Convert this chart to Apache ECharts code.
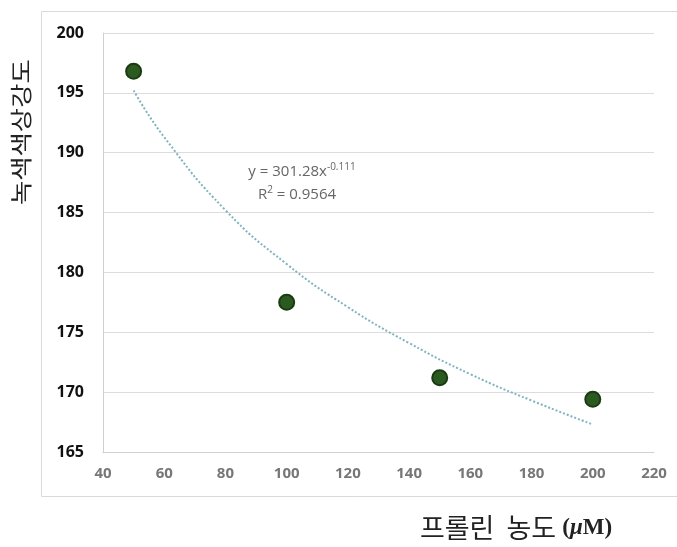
<!DOCTYPE html>
<html>
<head>
<meta charset="utf-8">
<script src="https://cdn.jsdelivr.net/npm/echarts@6/dist/echarts.min.js"></script>
<style>
  html, body { margin: 0; padding: 0; background: #fff; }
  #chart { width: 677px; height: 547px; }
</style>
</head>
<body>
<div id="chart"></div>
<script>
  // 측정값 (프롤린 농도 vs 녹색색상강도)
  var prolineConc = [50, 100, 150, 200];
  var greenIntensity = [196.8, 177.5, 171.2, 169.4];

  // 추세선
  var trendX = [50, 60, 80, 100, 120, 140, 160, 180, 200];
  var trendY = [195.2, 191.3, 185.2, 180.7, 177.1, 174.1, 171.5, 169.3, 167.3];

  var xTicks = [40, 220, 20];   // min, max, interval
  var yTicks = [165, 200, 5];

  var chart = echarts.init(document.getElementById('chart'));

  var option = {
      backgroundColor: '#fff',
      animation: false,
      grid: {
          left: 103,
          right: 23,
          top: 33,
          bottom: 95
      },
      xAxis: {
          type: 'value',
          min: xTicks[0],
          max: xTicks[1],
          interval: xTicks[2],
          axisLine: { show: true, onZero: false, lineStyle: { color: '#d0d0d0', width: 1 } },
          axisTick: { show: false },
          splitLine: { show: false },
          axisLabel: {
              color: '#777',
              fontSize: 15,
              fontWeight: 'bold',
              fontFamily: 'Open Sans',
              margin: 14
          }
      },
      yAxis: {
          type: 'value',
          min: yTicks[0],
          max: yTicks[1],
          interval: yTicks[2],
          axisLine: { show: true, lineStyle: { color: '#d0d0d0', width: 1 } },
          axisTick: { show: false },
          splitLine: { lineStyle: { color: '#dcdcdc', width: 1 } },
          axisLabel: {
              color: '#111',
              fontSize: 16,
              fontWeight: 'bold',
              fontFamily: 'Open Sans',
              margin: 19
          }
      },
      graphic: [
          { // 바깥 테두리
              type: 'rect',
              silent: true,
              z: -1,
              shape: { x: 41.5, y: 11.5, width: 660, height: 485 },
              style: { fill: 'none', stroke: '#d9d9d9', lineWidth: 1 }
          },
          {
              type: 'text',
              rotation: Math.PI / 2,
              scaleX: 1.2,
              x: 10,
              y: 205,
              style: {
                  text: '녹색색상강도',
                  font: '22px "Noto Sans CJK KR"',
                  fill: '#222'
              }
          },
          {
              type: 'text',
              x: 302,
              y: 172,
              style: {
                  text: '{n|y = 301.28x}{s|-0.111}',
                  rich: {
                      n: { fontSize: 15, fill: '#666', fontFamily: 'Open Sans' },
                      s: { fontSize: 10, fill: '#666', fontFamily: 'Open Sans', padding: [0, 0, 9, 0] }
                  },
                  align: 'center',
                  verticalAlign: 'middle'
              }
          },
          {
              type: 'text',
              x: 297,
              y: 195,
              style: {
                  text: '{n|R}{s|2}{n| = 0.9564}',
                  rich: {
                      n: { fontSize: 15, fill: '#666', fontFamily: 'Open Sans' },
                      s: { fontSize: 10, fill: '#666', fontFamily: 'Open Sans', padding: [0, 0, 9, 0] }
                  },
                  align: 'center',
                  verticalAlign: 'middle'
              }
          },
          {
              type: 'text',
              x: 516,
              y: 528,
              style: {
                  text: '{k|프롤린  농도 }{p|(}{m|μ}{p|M)}',
                  rich: {
                      k: { fontSize: 27, fill: '#222', fontFamily: 'Noto Sans CJK KR' },
                      p: { fontSize: 23, fill: '#222', fontFamily: 'Liberation Serif', fontWeight: 'bold' },
                      m: { fontSize: 23, fill: '#222', fontFamily: 'Liberation Serif', fontWeight: 'bold', fontStyle: 'italic' }
                  },
                  align: 'center',
                  verticalAlign: 'middle'
              }
          }
      ],
      series: [
          {
              name: '추세선',
              type: 'line',
              smooth: true,
              showSymbol: false,
              symbol: 'none',
              data: trendX.map(function (x, i) { return [x, trendY[i]]; }),
              lineStyle: { color: '#7fb3c0', width: 2, type: [2, 2] },
              z: 2
          },
          {
              name: '녹색색상강도',
              type: 'scatter',
              symbolSize: 15,
              data: prolineConc.map(function (x, i) { return [x, greenIntensity[i]]; }),
              itemStyle: { color: '#2b5a20', borderColor: '#1a3a12', borderWidth: 2, opacity: 1 },
              z: 3
          }
      ]
  };

  chart.setOption(option);

  window.addEventListener('resize', function () {
      chart.resize();
  });
</script>
</body>
</html>
